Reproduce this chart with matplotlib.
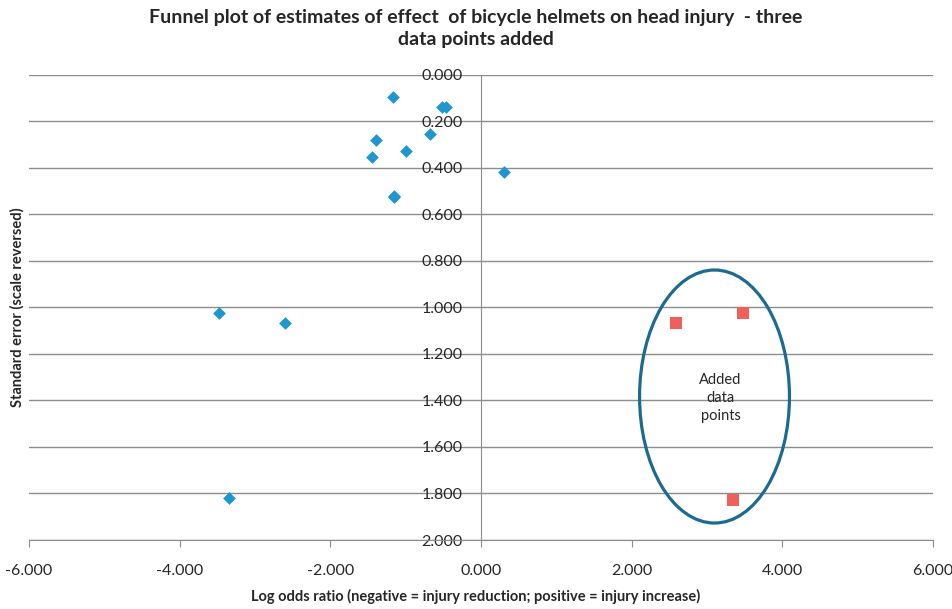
import matplotlib.pyplot as plt
from matplotlib.patches import Ellipse
from matplotlib.ticker import FormatStrFormatter

plt.rcParams['font.family'] = ['Lato', 'DejaVu Sans']

# original studies (log odds ratio, standard error)
study_lor = [-1.17, -0.515, -0.458, -1.39, -0.68, -1.00, -1.445, 0.30, -1.15, -1.16,
             -3.48, -2.60, -3.34]
study_se = [0.093, 0.139, 0.139, 0.280, 0.254, 0.328, 0.354, 0.418, 0.525, 0.520,
            1.025, 1.068, 1.820]

# the three added points
added_lor = [2.59, 3.48, 3.34]
added_se = [1.068, 1.025, 1.830]

x_ticks = [-6, -4, -2, 0, 2, 4, 6]
y_ticks = [0.0, 0.2, 0.4, 0.6, 0.8, 1.0, 1.2, 1.4, 1.6, 1.8, 2.0]

grid_col = '#8c8c8c'
text_col = '#262626'

fig = plt.figure(figsize=(9.52, 6.09), dpi=100)
ax = fig.add_axes([0.0305, 0.1133, 0.9495, 0.7637])

ax.set_xlim(-6, 6)
ax.set_ylim(2.0, 0.0)  # scale reversed
ax.set_xticks(x_ticks)
ax.set_yticks(y_ticks)
ax.xaxis.set_major_formatter(FormatStrFormatter('%.3f'))
ax.yaxis.set_major_formatter(FormatStrFormatter('%.3f'))

ax.grid(axis='y', color=grid_col, linewidth=1.0)
ax.set_axisbelow(True)

# y axis crosses at zero
ax.spines['left'].set_position(('data', 0))
ax.spines['left'].set_color(grid_col)
ax.spines['bottom'].set_color(grid_col)
ax.spines['top'].set_visible(False)
ax.spines['right'].set_visible(False)

ax.tick_params(axis='y', length=0, pad=13, labelsize=11.5, labelcolor=text_col)
ax.tick_params(axis='x', length=5, color=grid_col, pad=12, labelsize=11.5,
               labelcolor=text_col)

ax.scatter(study_lor, study_se, marker='D', s=42, color='#1f96cf', zorder=3,
           linewidths=0)
ax.scatter(added_lor, added_se, marker='s', s=72, color='#f0605a', zorder=3,
           linewidths=0)

ell = Ellipse((3.10, 1.383), 1.99, 1.088, fill=False, edgecolor='#1d6a90',
              linewidth=2.3, zorder=4)
ax.add_patch(ell)
ax.text(3.18, 1.39, 'Added\ndata\npoints', ha='center', va='center', fontsize=10.5,
        color=text_col, linespacing=1.35)

fig.suptitle('Funnel plot of estimates of effect  of bicycle helmets on head injury  - three\ndata points added',
             fontsize=14, fontweight='bold', color=text_col, y=0.985, linespacing=1.35)
fig.text(0.5, 0.021, 'Log odds ratio (negative = injury reduction; positive = injury increase)',
         ha='center', va='center', fontsize=10.5, fontweight='bold', color=text_col)
fig.text(0.018, 0.495, 'Standard error (scale reversed)', rotation=90, ha='center',
         va='center', fontsize=10.5, fontweight='bold', color=text_col)

fig.savefig('out.png', dpi=100)
